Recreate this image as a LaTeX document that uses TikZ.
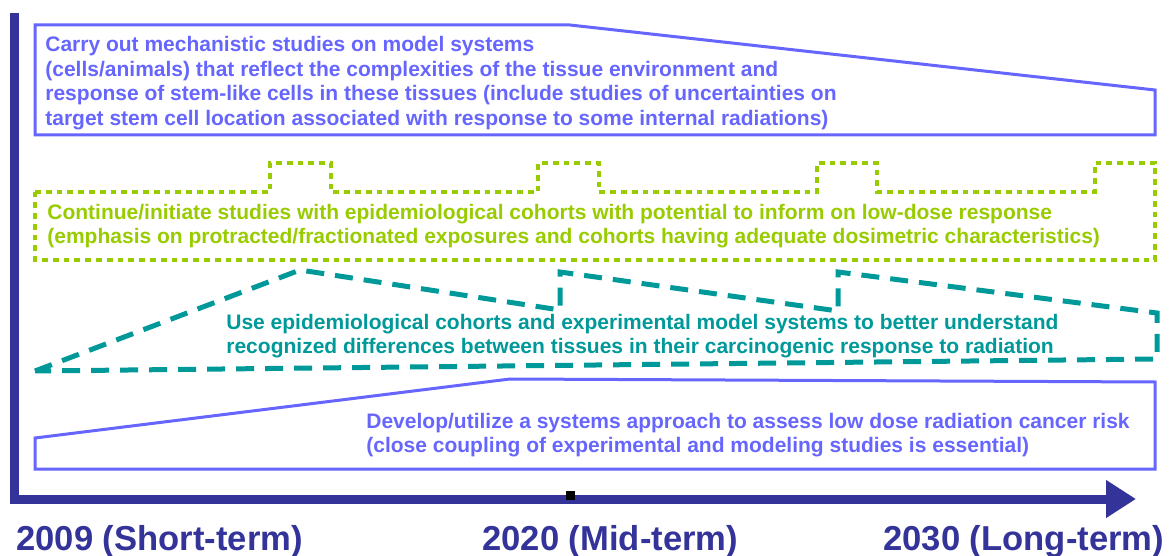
\documentclass[tikz,border=0pt]{standalone}
\usepackage{fontspec}
\setmainfont{Liberation Sans}
\usetikzlibrary{arrows.meta}
\definecolor{planblue}{RGB}{102,102,255}
\definecolor{axisblue}{RGB}{51,51,153}
\definecolor{plangreen}{RGB}{153,204,0}
\definecolor{planteal}{RGB}{0,153,153}

\begin{document}
\begin{tikzpicture}[x=0.5pt,y=-0.5pt,
    plantext/.style={anchor=west, align=left, inner sep=0pt,
      font=\fontsize{10.5}{12.35}\selectfont\bfseries},
    yearlabel/.style={anchor=base west, inner sep=0pt, text=axisblue,
      font=\fontsize{17.3}{19}\selectfont\bfseries},
    solidbox/.style={draw=planblue, line width=1.5pt, line join=miter},
    dotbox/.style={draw=plangreen, line width=2pt, dash pattern=on 2.9pt off 2.5pt},
    dashbox/.style={draw=planteal, line width=2.5pt, dash pattern=on 9pt off 5.5pt}]
  \useasboundingbox (0,0) rectangle (1175,556);

  % Mechanistic studies (top band)
  \draw[solidbox] (35,25) -- (570,25) -- (1155,90) -- (1155,135) -- (35,135) -- cycle;
  \node[plantext, text=planblue] (mech) at (45,83)
    {Carry out mechanistic studies on model systems\\
     (cells/animals) that reflect the complexities of the tissue environment and\\
     response of stem-like cells in these tissues (include studies of uncertainties on\\
     target stem cell location associated with response to some internal radiations)};

  % Epidemiological cohorts (dotted band)
  \draw[dotbox] (35,192) -- (270,192) -- (270,163) -- (331,163) -- (331,192)
    -- (538,192) -- (538,163) -- (599,163) -- (599,192)
    -- (817,192) -- (817,163) -- (877,163) -- (877,192)
    -- (1095,192) -- (1095,163) -- (1155,163) -- (1155,260) -- (35,260) -- cycle;
  \node[plantext, text=plangreen] (epi) at (47,226)
    {Continue/initiate studies with epidemiological cohorts with potential to inform on low-dose response\\
     (emphasis on protracted/fractionated exposures and cohorts having adequate dosimetric characteristics)};

  % Tissue differences (dashed band)
  \draw[dashbox] (35,371) -- (300,270) -- (560,310) -- (560,272) -- (838,311)
    -- (838,272) -- (1157,313) -- (1157,359) -- cycle;
  \node[plantext, text=planteal] (tissue) at (226,336)
    {Use epidemiological cohorts and experimental model systems to better understand\\
     recognized differences between tissues in their carcinogenic response to radiation};

  % Systems approach (bottom band)
  \draw[solidbox] (35,438) -- (510,379) -- (1155,382) -- (1155,469) -- (35,469) -- cycle;
  \node[plantext, text=planblue] (systems) at (366,435)
    {Develop/utilize a systems approach to assess low dose radiation cancer risk\\
     (close coupling of experimental and modeling studies is essential)};

  % Time axis
  \draw[axisblue, line width=4.5pt] (14,13) -- (14,503);
  \draw[axisblue, line width=4.5pt, -{Triangle[length=15pt,width=18pt]}] (10,499) -- (1136,499);
  \fill[black] (566,491) rectangle (575,500);

  \node[yearlabel] (short) at (16,551) {2009 (Short-term)};
  \node[yearlabel] (mid) at (482,551) {2020 (Mid-term)};
  \node[yearlabel] (long) at (883,551) {2030 (Long-term)};
\end{tikzpicture}
\end{document}
